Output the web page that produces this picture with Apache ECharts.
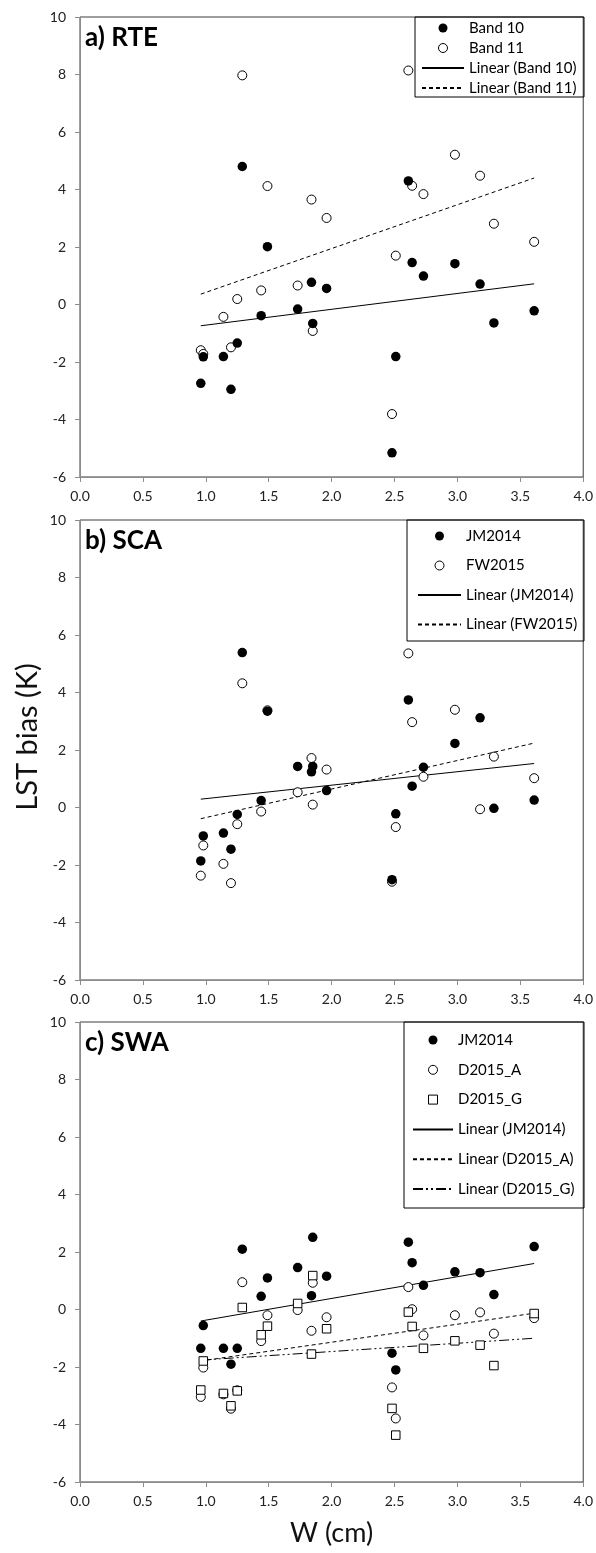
<!DOCTYPE html>
<html>
<head>
<meta charset="utf-8">
<script src="https://cdn.jsdelivr.net/npm/echarts@6/dist/echarts.min.js"></script>
<style>
    html, body { margin: 0; padding: 0; background: #fff; }
    #main { width: 596px; height: 1553px; }
</style>
</head>
<body>
<div id="main"></div>
<script>
// W (cm) of the 21 sites, same in all three panels
var W = [0.96, 0.98, 1.14, 1.20, 1.25, 1.29, 1.44, 1.49, 1.73, 1.84, 1.85, 1.96, 2.48, 2.51, 2.61, 2.64, 2.73, 2.98, 3.18, 3.29, 3.61];

// a) RTE
var rteBand10 = [-2.74, -1.82, -1.81, -2.95, -1.34, 4.80, -0.39, 2.01, -0.16, 0.77, -0.66, 0.56, -5.16, -1.81, 4.30, 1.46, 0.99, 1.42, 0.71, -0.64, -0.22];
var rteBand11 = [-1.59, -1.72, -0.43, -1.49, 0.19, 7.97, 0.49, 4.12, 0.66, 3.65, -0.92, 3.01, -3.81, 1.70, 8.14, 4.13, 3.84, 5.21, 4.48, 2.81, 2.18];
// b) SCA
var scaJM2014 = [-1.86, -0.99, -0.89, -1.45, -0.24, 5.39, 0.24, 3.35, 1.43, 1.24, 1.43, 0.59, -2.51, -0.22, 3.74, 0.74, 1.40, 2.23, 3.12, -0.03, 0.26];
var scaFW2015 = [-2.37, -1.32, -1.96, -2.63, -0.58, 4.32, -0.14, 3.38, 0.53, 1.72, 0.10, 1.32, -2.58, -0.68, 5.36, 2.97, 1.07, 3.40, -0.06, 1.77, 1.02];
// c) SWA
var swaJM2014 = [-1.35, -0.56, -1.35, -1.90, -1.35, 2.10, 0.46, 1.10, 1.46, 0.48, 2.51, 1.16, -1.52, -2.10, 2.34, 1.63, 0.84, 1.31, 1.28, 0.52, 2.19];
var swaD2015A = [-3.04, -2.02, -2.95, -3.45, -2.81, 0.95, -1.10, -0.20, -0.02, -0.74, 0.93, -0.27, -2.71, -3.79, 0.78, 0.01, -0.90, -0.20, -0.10, -0.84, -0.30];
var swaD2015G = [-2.80, -1.79, -2.92, -3.35, -2.83, 0.07, -0.88, -0.58, 0.21, -1.55, 1.18, -0.67, -3.44, -4.37, -0.09, -0.59, -1.35, -1.09, -1.24, -1.95, -0.14];

// linear trend lines, read at both ends
var trendX = [0.96, 3.61];
var trendRte10 = [-0.74, 0.72];
var trendRte11 = [0.36, 4.40];
var trendScaJM = [0.29, 1.53];
var trendScaFW = [-0.39, 2.24];
var trendSwaJM = [-0.40, 1.60];
var trendSwaA = [-1.79, -0.13];
var trendSwaG = [-1.76, -1.00];

var xTicks = ['0.0', '0.5', '1.0', '1.5', '2.0', '2.5', '3.0', '3.5', '4.0'];
var panelTitles = ['a) RTE', 'b) SCA', 'c) SWA'];

var FONT = 'Lato, "Open Sans", sans-serif';
var gridTops = [17, 520, 1022];
var SQUARE = 'path://M0,0L10,0L10,10L0,10Z';

function pairs(ys) {
    return W.map(function (w, i) { return [w, ys[i]]; });
}
function trend(ys) {
    return trendX.map(function (x, i) { return [x, ys[i]]; });
}

var myChart = echarts.init(document.getElementById('main'), null, {renderer: 'canvas'});

var grids = [], xAxes = [], yAxes = [];
gridTops.forEach(function (top, k) {
    grids.push({
        left: 80, width: 504, top: top, height: 460,
        show: true, borderColor: '#3c3c3c', borderWidth: 1
    });
    xAxes.push({
        type: 'value', gridIndex: k, min: 0, max: 4, interval: 0.5,
        axisLine: {onZero: false, lineStyle: {color: '#8c8c8c'}},
        axisTick: {length: 5, lineStyle: {color: '#8c8c8c'}},
        splitLine: {show: false},
        axisLabel: {
            margin: 12, color: '#222', fontSize: 14, fontFamily: FONT,
            formatter: function (v) { return xTicks[Math.round(v * 2)]; }
        },
        name: k === 2 ? 'W (cm)' : '',
        nameLocation: 'middle', nameGap: 38,
        nameTextStyle: {fontSize: 27, color: '#111', fontFamily: FONT}
    });
    yAxes.push({
        type: 'value', gridIndex: k, min: -6, max: 10, interval: 2,
        axisLine: {show: true, onZero: false, lineStyle: {color: '#8c8c8c'}},
        axisTick: {show: true, length: 5, lineStyle: {color: '#8c8c8c'}},
        splitLine: {show: false},
        axisLabel: {margin: 14, color: '#222', fontSize: 14, fontFamily: FONT}
    });
});

var filled = {color: '#000', opacity: 1};
var hollow = {color: '#fff', borderColor: '#000', borderWidth: 1, opacity: 1};
var noDot = {color: 'rgba(0,0,0,0)', borderColor: 'rgba(0,0,0,0)', borderWidth: 0};

function dots(name, k, ys, style, size, sym, z) {
    return {
        name: name, type: 'scatter', xAxisIndex: k, yAxisIndex: k,
        symbol: sym || 'circle', symbolSize: size, itemStyle: style, z: z,
        data: pairs(ys)
    };
}
function fit(name, k, ys, dash) {
    return {
        name: name, type: 'line', xAxisIndex: k, yAxisIndex: k,
        symbol: 'none', z: 1, itemStyle: {color: '#000'},
        lineStyle: {color: '#000', width: 1, type: dash},
        data: trend(ys)
    };
}

var series = [
    dots('Band 11', 0, rteBand11, hollow, 9, 'circle', 2),
    dots('Band 10', 0, rteBand10, filled, 9.5, 'circle', 3),
    fit('Linear (Band 10)', 0, trendRte10, 'solid'),
    fit('Linear (Band 11)', 0, trendRte11, [4, 3]),

    dots('FW2015', 1, scaFW2015, hollow, 9, 'circle', 2),
    dots('JM2014', 1, scaJM2014, filled, 9.5, 'circle', 3),
    fit('Linear (JM2014)', 1, trendScaJM, 'solid'),
    fit('Linear (FW2015)', 1, trendScaFW, [4, 3]),

    dots('D2015_A', 2, swaD2015A, hollow, 9, 'circle', 2),
    dots('D2015_G', 2, swaD2015G, hollow, 8.5, 'rect', 3),
    dots('JM2014', 2, swaJM2014, filled, 9.5, 'circle', 4),
    fit('Linear (JM2014)', 2, trendSwaJM, 'solid'),
    fit('Linear (D2015_A)', 2, trendSwaA, [4, 3]),
    fit('Linear (D2015_G)', 2, trendSwaG, [10, 3, 2, 3, 2, 3])
];

function legendItem(name, icon, style) {
    if (icon) return {name: name, icon: icon, itemStyle: style};
    return {name: name, itemStyle: noDot};
}
function legendBox(left, top, gap, itemWidth, items) {
    return {
        orient: 'vertical', left: left, top: top, padding: 0,
        itemWidth: itemWidth, itemHeight: 9, itemGap: gap,
        selectedMode: false, symbolKeepAspect: true,
        textStyle: {fontSize: 15, lineHeight: 16, color: '#000', fontFamily: FONT},
        data: items
    };
}

var legends = [
    legendBox(421, 20, 4, 42, [
        legendItem('Band 10', 'circle', filled),
        legendItem('Band 11', 'circle', hollow),
        legendItem('Linear (Band 10)'),
        legendItem('Linear (Band 11)')
    ]),
    legendBox(417, 528, 13.5, 43, [
        legendItem('JM2014', 'circle', filled),
        legendItem('FW2015', 'circle', hollow),
        legendItem('Linear (JM2014)'),
        legendItem('Linear (FW2015)')
    ]),
    legendBox(412, 1032, 13.8, 40, [
        legendItem('JM2014', 'circle', filled),
        legendItem('D2015_A', 'circle', hollow),
        legendItem('D2015_G', SQUARE, hollow),
        legendItem('Linear (JM2014)'),
        legendItem('Linear (D2015_A)'),
        legendItem('Linear (D2015_G)')
    ])
];

// legend frames, panel labels, shared y axis title
var graphics = [
    {type: 'rect', shape: {x: 415, y: 17, width: 169, height: 80}, style: {fill: 'none', stroke: '#000', lineWidth: 1}, z: 10},
    {type: 'rect', shape: {x: 407, y: 520, width: 177, height: 121}, style: {fill: 'none', stroke: '#000', lineWidth: 1}, z: 10},
    {type: 'rect', shape: {x: 404, y: 1022, width: 180, height: 186}, style: {fill: 'none', stroke: '#000', lineWidth: 1}, z: 10}
];
gridTops.forEach(function (top, k) {
    graphics.push({
        type: 'text', x: 85, y: top + 21, z: 10,
        style: {text: panelTitles[k], font: 'bold 26px ' + FONT, fill: '#000', textVerticalAlign: 'middle'}
    });
});
graphics.push({
    type: 'text', x: 28, y: 737, rotation: Math.PI / 2, z: 10,
    style: {text: 'LST bias (K)', font: '29px ' + FONT, fill: '#111', textAlign: 'center', textVerticalAlign: 'middle'}
});

myChart.setOption({
    animation: false,
    backgroundColor: '#fff',
    grid: grids,
    xAxis: xAxes,
    yAxis: yAxes,
    legend: legends,
    graphic: graphics,
    series: series
});
</script>
</body>
</html>
